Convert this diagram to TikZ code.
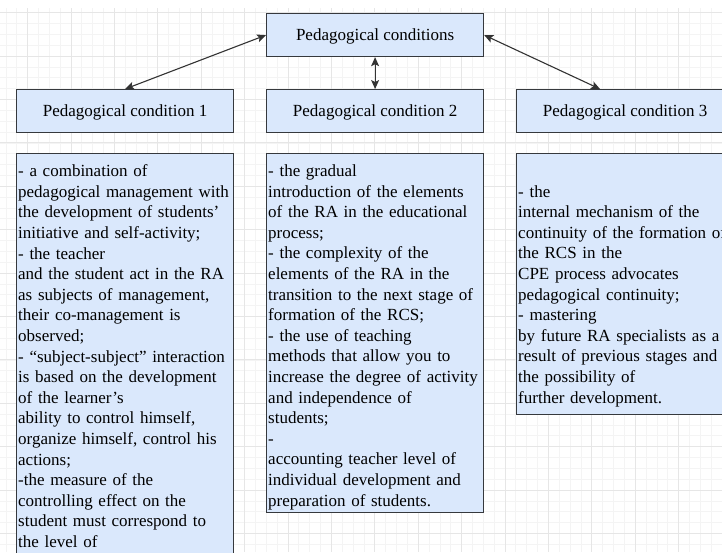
\documentclass[tikz,border=0pt]{standalone}
\usepackage{fontspec}
\setmainfont{Liberation Serif}
\usetikzlibrary{arrows.meta}
\definecolor{boxfill}{HTML}{DAE8FC}
\definecolor{boxline}{HTML}{36393D}
\definecolor{gridmin}{HTML}{F4F4F4}
\definecolor{gridmaj}{HTML}{E6E6E6}
\begin{document}
\begin{tikzpicture}[x=1pt,y=-1pt,
    cond/.style={draw=boxline,fill=boxfill,line width=1.2pt,minimum width=217pt,
      minimum height=43pt,inner sep=0pt,anchor=north west,text height=15.4pt,text depth=3.7pt,
      font=\fontsize{17}{20.6}\selectfont},
    body/.style={anchor=north west,align=left,text width=228pt,inner sep=0pt,
      font=\fontsize{17}{20.6}\selectfont},
    link/.style={{Stealth[length=9pt,width=8pt,inset=2pt]}-{Stealth[length=9pt,width=8pt,inset=2pt]},
      line width=1.1pt,draw=black!80}]
  \useasboundingbox (0,0) rectangle (722,552);
  \clip (0,0) rectangle (722,552);
  \fill[white] (0,0) rectangle (722,552);
  % grid
  \foreach \i in {0,...,66}
    \draw[gridmin,line width=0.8pt] ({5.9+10.85*\i},8) -- ({5.9+10.85*\i},552);
  \foreach \i in {0,...,49}
    \draw[gridmin,line width=0.8pt] (0,{12.7+10.85*\i}) -- (722,{12.7+10.85*\i});
  \foreach \i in {0,...,16}
    \draw[gridmaj,line width=0.9pt] ({27.6+43.4*\i},8) -- ({27.6+43.4*\i},552);
  \foreach \i in {0,...,12}
    \draw[gridmaj,line width=0.9pt] (0,{12.7+43.4*\i}) -- (722,{12.7+43.4*\i});
  % boxes
  \node[cond] (top) at (266,13) {Pedagogical conditions};
  \node[cond] (c1) at (16,89) {Pedagogical condition 1};
  \node[cond] (c2) at (266,89) {Pedagogical condition 2};
  \node[cond] (c3) at (516,89) {Pedagogical condition 3};
  \node[cond,minimum height=417pt] (t1) at (16,153) {};
  \node[cond,minimum height=359pt] (t2) at (266,153) {};
  \node[cond,minimum height=261pt] (t3) at (516,153) {};
  % texts
  \node[body] (b1) at ([xshift=2pt,yshift=-11.5pt]t1.north west)
    {- a combination of\\ pedagogical management with\\ the development of students'\\
     initiative and self-activity;\\ - the teacher\\ and the student act in the RA\\
     as subjects of management,\\ their co-management is\\ observed;\\
     - “subject-subject” interaction\\ is based on the development\\ of the learner’s\\
     ability to control himself,\\ organize himself, control his\\ actions;\\
     -the measure of the\\ controlling effect on the\\ student must correspond to\\
     the level of};
  \node[body] (b2) at ([xshift=2pt,yshift=-11.5pt]t2.north west)
    {- the gradual\\ introduction of the elements\\ of the RA in the educational\\
     process;\\ - the complexity of the\\ elements of the RA in the\\
     transition to the next stage of\\ formation of the RCS;\\ - the use of teaching\\
     methods that allow you to\\ increase the degree of activity\\ and independence of\\
     students;\\ -\\ accounting teacher level of\\ individual development and\\
     preparation of students.};
  \node[body] (b3) at ([xshift=2pt,yshift=-32.1pt]t3.north west)
    {- the\\ internal mechanism of the\\ continuity of the formation of\\ the RCS in the\\
     CPE process advocates\\ pedagogical continuity;\\ - mastering\\
     by future RA specialists as a\\ result of previous stages and\\ the possibility of\\
     further development.};
  % arrows
  \draw[link] (c1.north) -- (top.west);
  \draw[link] (top.south) -- (c2.north);
  \draw[link] (top.east) -- ([xshift=84pt]c3.north west);
\end{tikzpicture}
\end{document}
